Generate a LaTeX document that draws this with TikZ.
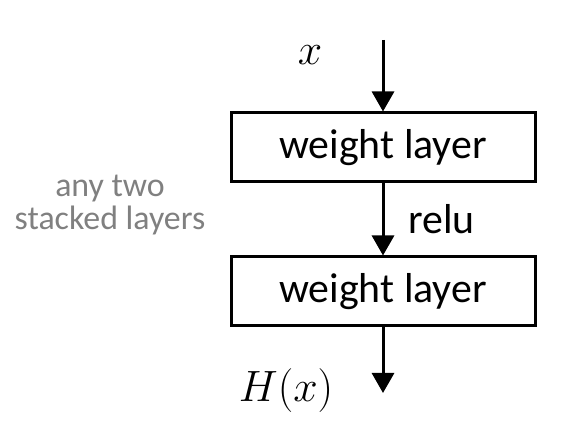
\RequirePackage{fix-cm}
\documentclass[tikz,border=0pt]{standalone}
\usepackage{fontspec}
\setmainfont{Carlito}
\usepackage{tikz}
\usetikzlibrary{arrows.meta, positioning}
\definecolor{notegray}{RGB}{128, 128, 128}

\begin{document}
\begin{tikzpicture}[
    x=1bp, y=1bp,
    every node/.style={font=\fontsize{42}{44}\selectfont},
    layerbox/.style={
        rectangle,
        draw=black,
        line width=3bp,
        fill=white,
        minimum width=304bp,
        minimum height=69bp,
        inner sep=0pt
    },
    note/.style={
        text=notegray,
        align=center,
        inner sep=0pt,
        font=\fontsize{34}{33}\selectfont
    },
    mathlabel/.style={
        inner sep=0pt,
        font=\fontsize{44}{46}\selectfont
    },
    arrow/.style={
        line width=3bp,
        -{Triangle[length=20bp, width=22bp]},
        draw=black
    }
]
\useasboundingbox (0,0) rectangle (569,435);

% ==================== LAYERS ====================
\node (w_one) [layerbox] at (383, 287.5) {weight layer};
\node (w_two) [layerbox, below=72bp of w_one] {weight layer};

% ==================== INPUT / OUTPUT ====================
\coordinate (in_top) at (383, 395);
\coordinate (out_end) at (383, 42);
\node (lbl_x) [mathlabel] at (310, 380) {$x$};
\node (lbl_h) [mathlabel, anchor=base] at (286, 33) {$H(x)$};

\draw [arrow] (in_top) -- (w_one.north);
\draw [arrow] (w_one.south) -- node (lbl_relu) [right=24bp, inner sep=0pt] {relu} (w_two.north);
\draw [arrow] (w_two.south) -- (out_end);

% Side note
\node (side_note) [note] at (110, 230) {any two\\stacked layers};

\end{tikzpicture}
\end{document}
